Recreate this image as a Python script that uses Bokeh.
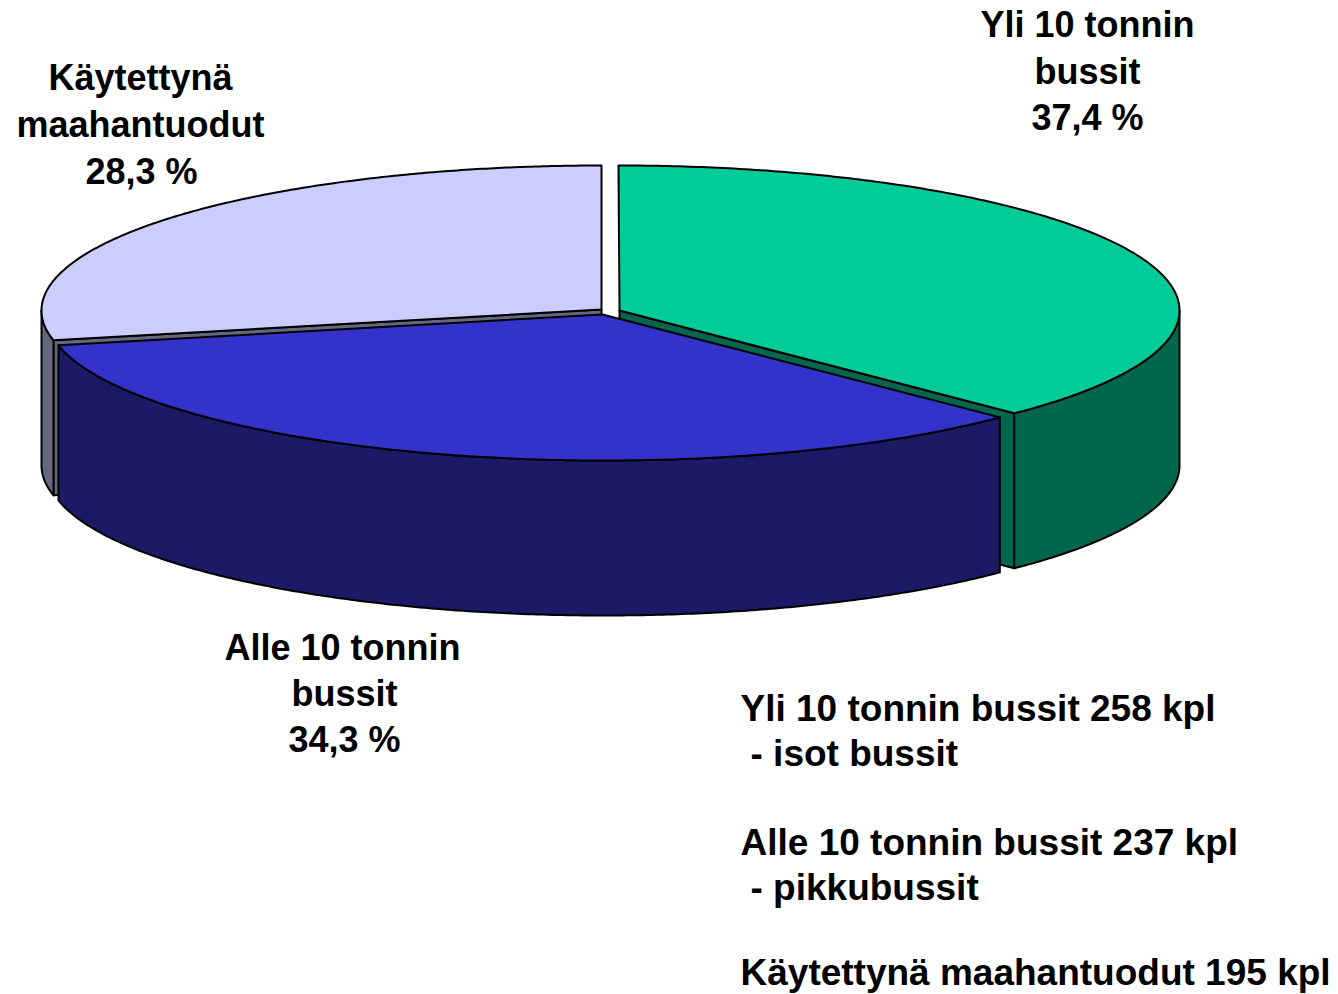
import numpy as np
from bokeh.plotting import figure
from bokeh.models import Range1d, ColumnDataSource
from bokeh.embed import file_html
from bokeh.resources import INLINE
from bokeh.core.properties import value

categories = ["Yli 10 tonnin bussit", "Alle 10 tonnin bussit", "Käytettynä maahantuodut"]
shares = [37.4, 34.3, 28.3]
top_colors = ["#00CC99", "#3333CC", "#CCCCFF"]
side_colors = ["#00664D", "#1A1A66", "#66667F"]
pie_label_lines = [["Yli 10 tonnin", "bussit", "37,4 %"],
                   ["Alle 10 tonnin", "bussit", "34,3 %"],
                   ["Käytettynä", "maahantuodut", "28,3 %"]]
note_lines = ["Yli 10 tonnin bussit 258 kpl", "- isot bussit",
              "Alle 10 tonnin bussit 237 kpl", "- pikkubussit",
              "Käytettynä maahantuodut 195 kpl"]

W, H = 1338, 994
p = figure(width=W, height=H, output_backend="svg", toolbar_location=None,
           x_range=Range1d(0, W), y_range=Range1d(H, 0), min_border=0)
p.axis.visible = False
p.grid.visible = False
p.outline_line_color = None
p.background_fill_color = None

DEPTH = 155
# apex, ellipse centre and radii of each exploded slice (screen layout)
geom = [dict(apex=(619, 310), c=(618, 310), rx=561, ry=145, end_pad=0.5),
        dict(apex=(602, 314), c=(603, 315), rx=557, ry=145, end_pad=0.0),
        dict(apex=(601, 309), c=(601, 310), rx=560, ry=145, end_pad=0.0)]

edges = np.cumsum([0] + shares) / 100 * 360


def arc(g, a, b, n=240):
    t = np.radians(np.linspace(a, b, n))
    return g["c"][0] + g["rx"] * np.sin(t), g["c"][1] - g["ry"] * np.cos(t)


def poly(x, y, fill):
    p.patch(list(x), list(y), fill_color=fill, line_color="black", line_width=2,
            line_join="round")


def wall_between(g, a, b, fill):
    ax, ay = arc(g, a, b)
    poly(np.r_[ax, ax[::-1]], np.r_[ay, ay[::-1] + DEPTH], fill)


def inner_wall(g, ang, fill):
    ex, ey = arc(g, ang, ang, 1)
    ax, ay = g["apex"]
    poly([ax, ex[0], ex[0], ax], [ay, ey[0], ey[0] + DEPTH, ay + DEPTH], fill)


def top(g, a, b, fill):
    ax, ay = arc(g, a, b)
    poly(np.r_[g["apex"][0], ax], np.r_[g["apex"][1], ay], fill)


for i in [2, 0, 1]:
    g = geom[i]
    a, b = edges[i], edges[i + 1] + g["end_pad"]
    if i == 2:
        inner_wall(g, a, side_colors[i])
        wall_between(g, a, 270, side_colors[i])
    elif i == 0:
        inner_wall(g, b, side_colors[i])
        wall_between(g, 90, b, side_colors[i])
    else:
        wall_between(g, a, b, side_colors[i])
    top(g, a, b, top_colors[i])

FONT = value("Liberation Sans")
label_pos = [([1087, 1087, 1087], [24, 71, 117]),
             ([342, 344, 344], [647, 693, 739]),
             ([140, 140, 141], [77, 124, 171])]
for lines, (lx, ly) in zip(pie_label_lines, label_pos):
    src = ColumnDataSource(dict(x=lx, y=ly, t=lines))
    p.text("x", "y", "t", source=src, text_font=FONT, text_font_style="bold",
           text_font_size="36px", text_align="center", text_baseline="middle",
           text_color="black")

src = ColumnDataSource(dict(x=[740, 750, 740, 750, 740], y=[708, 753, 842, 887, 972], t=note_lines))
p.text("x", "y", "t", source=src, text_font=FONT, text_font_style="bold",
       text_font_size="37px", text_align="left", text_baseline="middle", text_color="black")

open("out.html", "w").write(file_html(p, INLINE))
